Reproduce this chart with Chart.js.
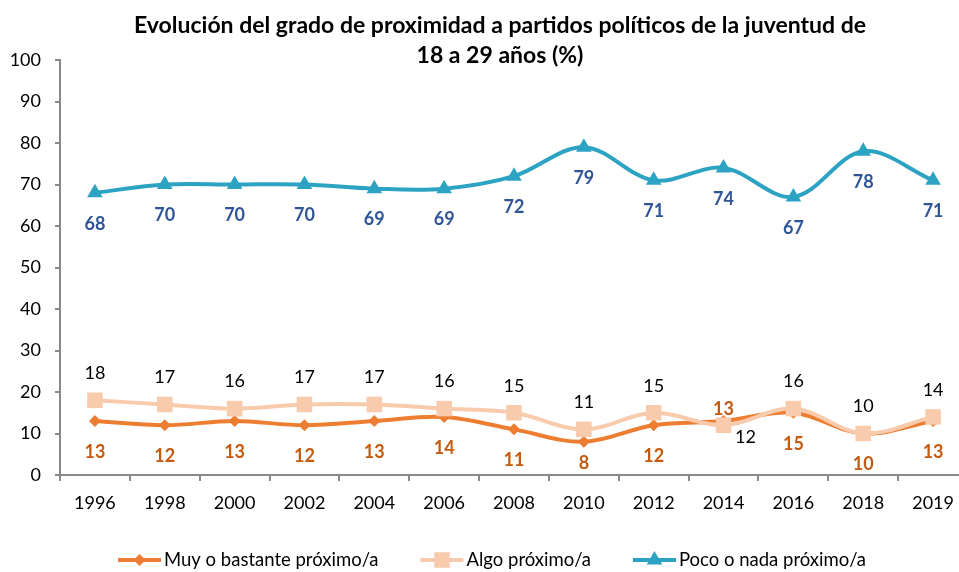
<!DOCTYPE html>
<html>
<head>
<meta charset="utf-8">
<script src="https://cdn.jsdelivr.net/npm/chart.js@4.4.0/dist/chart.umd.min.js"></script>
<style>
  html, body { margin: 0; padding: 0; background: #fff; overflow: hidden; }
  #wrap { width: 959px; height: 572px; overflow: hidden; }
  #wrap div { width: 1000px; height: 572px; }
</style>
</head>
<body>
<div id="wrap"><div><canvas id="chart"></canvas></div></div>
<script>
// datos
const years = ['1996', '1998', '2000', '2002', '2004', '2006', '2008', '2010', '2012', '2014', '2016', '2018', '2019'];
const muyBastante = [13, 12, 13, 12, 13, 14, 11, 8, 12, 13, 15, 10, 13];
const algo = [18, 17, 16, 17, 17, 16, 15, 11, 15, 12, 16, 10, 14];
const pocoNada = [68, 70, 70, 70, 69, 69, 72, 79, 71, 74, 67, 78, 71];
const yTicks = [0, 10, 20, 30, 40, 50, 60, 70, 80, 90, 100];

const titleLines = ['Evolución del grado de proximidad a partidos políticos de la juventud de', '18 a 29 años (%)'];
const FONT = 'Lato, "Open Sans", sans-serif';

// Etiquetas de datos (dx, dy respecto al punto)
function labelOffset(dsIndex, i) {
    if (dsIndex === 0) {            // Muy o bastante
        if (i === 9) return [0, -12];
        if (i === 7) return [0, 21];
        return [0, 31];
    }
    if (dsIndex === 1) {            // Algo
        if (i === 9) return [22, 12];
        return [0, -27];
    }
    return [0, 31];                 // Poco o nada
}

const dataLabels = {
    id: 'dataLabels',
    afterDatasetsDraw(chart) {
        const ctx = chart.ctx;
        ctx.save();
        ctx.textAlign = 'center';
        ctx.textBaseline = 'middle';
        chart.data.datasets.forEach((ds, di) => {
            const meta = chart.getDatasetMeta(di);
            ctx.font = (ds.labelBold ? 'bold ' : '') + '18px ' + FONT;
            ctx.fillStyle = ds.labelColor;
            meta.data.forEach((pt, i) => {
                const off = labelOffset(di, i);
                ctx.fillText(ds.data[i], pt.x + off[0], pt.y + off[1]);
            });
        });
        ctx.restore();
    }
};

const titleAndLegend = {
    id: 'titleAndLegend',
    afterDraw(chart) {
        const ctx = chart.ctx;
        ctx.save();
        // título
        ctx.fillStyle = '#000';
        ctx.font = 'bold 23px ' + FONT;
        ctx.textAlign = 'center';
        ctx.textBaseline = 'middle';
        ctx.fillText(titleLines[0], 500, 26);
        ctx.fillText(titleLines[1], 500, 56);

        // leyenda
        ctx.font = '18.5px ' + FONT;
        ctx.textAlign = 'left';
        const lineLen = 43, gapText = 3, gapItem = 42;
        const items = chart.data.datasets;
        let total = 0;
        items.forEach((ds, i) => {
            total += lineLen + gapText + ctx.measureText(ds.label).width;
            if (i < items.length - 1) total += gapItem;
        });
        let x = 492 - total / 2;
        const y = 560;
        items.forEach(ds => {
            ctx.strokeStyle = ds.borderColor;
            ctx.lineWidth = 4;
            ctx.beginPath();
            ctx.moveTo(x, y);
            ctx.lineTo(x + lineLen, y);
            ctx.stroke();
            ctx.fillStyle = ds.borderColor;
            Chart.helpers.drawPoint(ctx, { pointStyle: ds.pointStyle, radius: ds.pointRadius, borderWidth: 0 }, x + lineLen / 2, y);
            ctx.fillStyle = '#000';
            ctx.fillText(ds.label, x + lineLen + gapText, y);
            x += lineLen + gapText + ctx.measureText(ds.label).width + gapItem;
        });
        ctx.restore();
    }
};

new Chart(document.getElementById('chart'), {
    type: 'line',
    data: {
        labels: years,
        datasets: [
            {
                label: 'Muy o bastante próximo/a',
                data: muyBastante,
                borderColor: '#ED7D31',
                backgroundColor: '#ED7D31',
                pointStyle: 'rectRot',
                pointRadius: 6,
                labelColor: '#C55A11',
                labelBold: true,
                order: 2
            },
            {
                label: 'Algo próximo/a',
                data: algo,
                borderColor: '#F8CBAD',
                backgroundColor: '#F8CBAD',
                pointStyle: 'rect',
                pointRadius: 11,
                labelColor: '#000000',
                labelBold: false,
                order: 1
            },
            {
                label: 'Poco o nada próximo/a',
                data: pocoNada,
                borderColor: '#2CA3C3',
                backgroundColor: '#2CA3C3',
                pointStyle: 'triangle',
                pointRadius: 9,
                labelColor: '#2F5597',
                labelBold: true,
                order: 0
            }
        ].map(ds => Object.assign(ds, {
            borderWidth: 4,
            tension: 0.35,
            pointBorderWidth: 0,
            pointHoverRadius: ds.pointRadius,
            fill: false
        }))
    },
    options: {
        responsive: true,
        maintainAspectRatio: false,
        animation: false,
        layout: { padding: { top: 60, right: 32, bottom: 57, left: 0 } },
        scales: {
            x: {
                offset: true,
                grid: {
                    offset: true,
                    drawOnChartArea: false,
                    drawTicks: true,
                    tickLength: 6,
                    color: '#898989',
                    lineWidth: 2
                },
                border: { color: '#898989', width: 2 },
                ticks: { color: '#000', font: { family: FONT, size: 18 }, padding: 11, maxRotation: 0, autoSkip: false },
                afterFit: s => { s.height = 40; }
            },
            y: {
                min: 0,
                max: 100,
                afterBuildTicks: s => { s.ticks = yTicks.map(v => ({ value: v })); },
                grid: {
                    drawOnChartArea: false,
                    drawTicks: true,
                    tickLength: 5,
                    color: '#898989',
                    lineWidth: 2
                },
                border: { color: '#898989', width: 2 },
                ticks: { color: '#000', font: { family: FONT, size: 18 }, padding: 14 },
                afterFit: s => { s.width = 60; }
            }
        },
        plugins: {
            legend: { display: false },
            title: { display: false },
            tooltip: { enabled: false }
        }
    },
    plugins: [dataLabels, titleAndLegend]
});
</script>
</body>
</html>
